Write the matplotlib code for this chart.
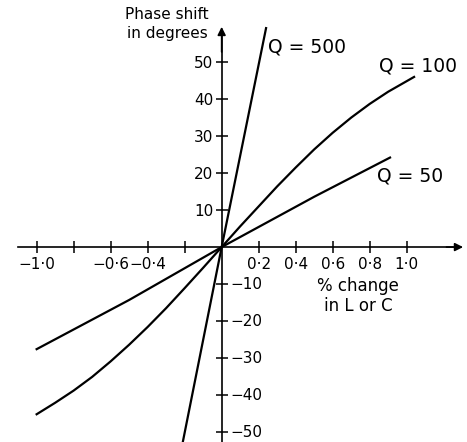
import matplotlib
matplotlib.use('Agg')
import matplotlib.pyplot as plt

plt.rcParams['font.family'] = ['DejaVu Sans']

# phase shift (degrees) against % change in L or C
q500_x = [-0.21, 0.0, 0.24]
q500_y = [-52.7, 0.0, 59.2]

q100_x = [-1.0, -0.9, -0.8, -0.7, -0.6, -0.5, -0.4, -0.3, -0.2, -0.1, 0.0,
          0.1, 0.2, 0.3, 0.4, 0.5, 0.6, 0.7, 0.8, 0.9, 1.04]
q100_y = [-45.2, -42.1, -38.8, -35.1, -30.9, -26.4, -21.6, -16.5, -11.1, -5.6, 0.0,
          5.6, 11.0, 16.4, 21.5, 26.4, 30.9, 35.0, 38.7, 42.0, 46.0]

q50_x = [-1.0, -0.5, 0.0, 0.5, 0.91]
q50_y = [-27.6, -14.3, 0.0, 13.6, 24.2]

x_ticks = [-1.0, -0.8, -0.6, -0.4, -0.2, 0.2, 0.4, 0.6, 0.8, 1.0]
x_labels = ['\u22121\u00b70', '', '\u22120\u00b76', '\u22120\u00b74', '',
            '0\u00b72', '0\u00b74', '0\u00b76', '0\u00b78', '1\u00b70']
y_pos_ticks = [10, 20, 30, 40, 50]
y_neg_ticks = [-10, -20, -30, -40, -50]

fig = plt.figure(figsize=(4.67, 4.42), dpi=100)
ax = fig.add_axes([0, 0, 1, 1])
ax.set_xlim(-1.198, 1.326)
ax.set_ylim(-52.7, 66.8)

# axes through the origin
for side in ['top', 'right']:
    ax.spines[side].set_visible(False)
ax.spines['left'].set_position(('data', 0))
ax.spines['bottom'].set_position(('data', 0))
ax.spines['bottom'].set_bounds(-1.1, 1.25)
ax.spines['left'].set_bounds(-52.7, 58)
for side in ['left', 'bottom']:
    ax.spines[side].set_linewidth(1.2)

ax.annotate('', xy=(1.32, 0), xytext=(1.2, 0),
            arrowprops=dict(arrowstyle='-|>', color='black', lw=1.2,
                            mutation_scale=12))
ax.annotate('', xy=(0, 60.3), xytext=(0, 52),
            arrowprops=dict(arrowstyle='-|>', color='black', lw=1.2,
                            mutation_scale=12))

ax.set_xticks(x_ticks)
ax.set_xticklabels(x_labels)
ax.set_yticks(y_pos_ticks + y_neg_ticks)
ax.set_yticklabels([str(v) for v in y_pos_ticks] + [''] * len(y_neg_ticks))
ax.tick_params(direction='inout', length=9, width=1.1, labelsize=11,
               pad=1.5)
ax.tick_params(axis='x', pad=3)

# negative y labels sit to the right of the axis
for v in y_neg_ticks:
    ax.annotate('\u2212' + str(-v), xy=(0, v), xytext=(6, 0),
                textcoords='offset points', va='center', ha='left',
                fontsize=11)

lw = 1.6
ax.plot(q500_x, q500_y, color='black', lw=lw)
ax.plot(q100_x, q100_y, color='black', lw=lw)
ax.plot(q50_x, q50_y, color='black', lw=lw)

ax.text(0.249, 54.1, 'Q = 500', fontsize=13.5, va='center', ha='left')
ax.text(0.851, 48.9, 'Q = 100', fontsize=13.5, va='center', ha='left')
ax.text(0.84, 19.2, 'Q = 50', fontsize=13.5, va='center', ha='left')

ax.text(-0.069, 64.8, 'Phase shift\nin degrees', fontsize=11,
        ha='right', va='top', multialignment='center', linespacing=1.3)
ax.text(0.737, -8.1, '% change\nin L or C', fontsize=12,
        ha='center', va='top', multialignment='center', linespacing=1.15)

fig.savefig('out.png', dpi=100)
